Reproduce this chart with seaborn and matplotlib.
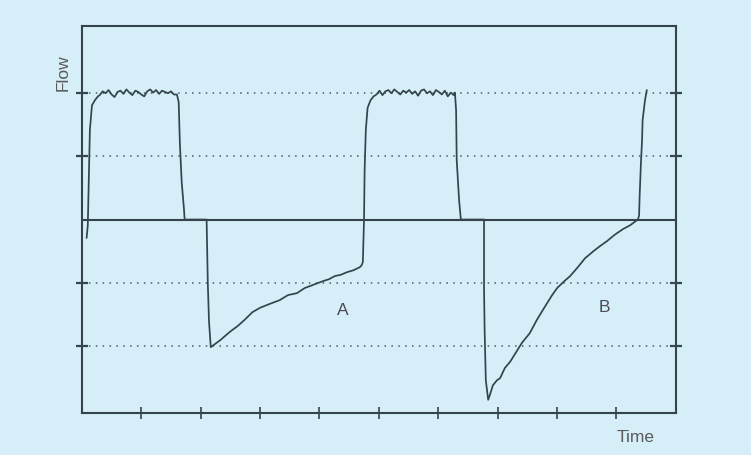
import pandas as pd
import seaborn as sns
import matplotlib.pyplot as plt

# Flow trace (time in tick units, flow in gridline units)
time = [0.08, 0.10, 0.135, 0.17, 0.22, 0.27,
        0.30, 0.35, 0.40, 0.45, 0.50, 0.55, 0.60, 0.65, 0.70, 0.75, 0.80, 0.85, 0.90,
        0.95, 1.00, 1.05, 1.10, 1.15, 1.20, 1.25, 1.30, 1.35, 1.40, 1.45, 1.50, 1.55,
        1.60, 1.63, 1.65, 1.68, 1.72, 1.73,
        2.10, 2.12, 2.14, 2.17,
        2.33, 2.49, 2.62, 2.74, 2.87, 3.00, 3.16, 3.33, 3.47, 3.62, 3.75, 3.89, 4.06,
        4.16, 4.26, 4.36, 4.46, 4.57, 4.68, 4.71,
        4.73, 4.75, 4.76, 4.78, 4.81, 4.86, 4.91,
        4.96, 5.01, 5.06, 5.11, 5.16, 5.21, 5.26, 5.31, 5.36, 5.41, 5.46, 5.51, 5.56,
        5.61, 5.66, 5.71, 5.76, 5.81, 5.86, 5.91, 5.96, 6.01, 6.06, 6.11, 6.16, 6.21,
        6.26, 6.28, 6.30, 6.31, 6.35, 6.38,
        6.77, 6.77, 6.78, 6.80, 6.84,
        6.87, 6.92, 6.99, 7.04, 7.12, 7.21, 7.31, 7.41, 7.54, 7.66, 7.79, 7.91, 8.00,
        8.11, 8.22, 8.35, 8.47, 8.61, 8.72, 8.84, 8.97, 9.11, 9.23, 9.36,
        9.38, 9.39, 9.41, 9.43, 9.44, 9.48, 9.51]
flow = [-0.29, -0.09, 1.41, 1.80, 1.88, 1.94,
        1.96, 2.02, 1.99, 2.04, 1.97, 1.93, 2.01, 2.03, 1.98, 2.05, 2.00, 1.96, 2.03,
        2.01, 1.97, 1.94, 2.02, 2.05, 2.00, 2.04, 1.98, 2.03, 2.01, 1.99, 2.02, 1.97,
        1.97, 1.85, 1.20, 0.60, 0.15, 0.00,
        0.00, -1.00, -1.60, -2.01,
        -1.90, -1.77, -1.68, -1.58, -1.46, -1.39, -1.33, -1.27, -1.19, -1.16, -1.08, -1.03, -0.97,
        -0.94, -0.89, -0.87, -0.83, -0.80, -0.75, -0.72,
        -0.67, 0.00, 0.78, 1.41, 1.76, 1.88, 1.94,
        1.97, 2.03, 1.96, 2.02, 2.04, 1.99, 2.05, 2.01, 1.97, 2.03, 2.00, 2.04, 1.98,
        2.02, 1.95, 2.03, 2.05, 1.99, 2.02, 1.96, 2.04, 2.01, 1.97, 2.03, 1.94, 2.00,
        1.96, 2.00, 1.72, 0.94, 0.31, 0.00,
        0.00, -1.08, -1.74, -2.53, -2.84,
        -2.76, -2.61, -2.53, -2.50, -2.34, -2.24, -2.09, -1.94, -1.79, -1.58, -1.38, -1.20, -1.08,
        -0.98, -0.89, -0.75, -0.61, -0.50, -0.42, -0.34, -0.24, -0.15, -0.09, 0.00,
        0.06, 0.38, 0.86, 1.25, 1.57, 1.88, 2.04]

grid_levels = [-2, -1, 1, 2]
time_ticks = [1, 2, 3, 4, 5, 6, 7, 8, 9]
curve_labels = ["A", "B"]
label_time = [4.39, 8.79]
label_flow = [-1.43, -1.38]

bg = "#d6eef8"
ink = "#34444f"

df = pd.DataFrame({"time": time, "flow": flow})

sns.set_style("white")
plt.rcParams["font.family"] = ["Liberation Sans", "DejaVu Sans"]
fig = plt.figure(figsize=(7.51, 4.55), dpi=100, facecolor=bg)
ax = fig.add_axes([0.109, 0.092, 0.791, 0.851], facecolor=bg)

for lv in grid_levels:
    ax.axhline(lv, color="#4a5a66", lw=1.1, ls=(0, (1, 3.5)), zorder=1)
ax.axhline(0, color=ink, lw=1.5, zorder=2)

sns.lineplot(data=df, x="time", y="flow", sort=False, estimator=None,
             color=ink, lw=1.25, ax=ax, zorder=3)

for lab, tx, fy in zip(curve_labels, label_time, label_flow):
    ax.text(tx, fy, lab, fontsize=12.5, color="#4a4a5a", ha="center", va="center")

ax.set_xlim(0, 10)
ax.set_ylim(-3.05, 3.05)
ax.set_xticks(time_ticks)
ax.set_yticks(grid_levels)
ax.set_xticklabels([])
ax.set_yticklabels([])
ax.tick_params(axis="x", direction="inout", length=9, width=1.2, color=ink, bottom=True)
ax.tick_params(axis="y", direction="inout", length=9, width=1.6, color=ink,
               left=True, right=True)
ax.set_xlabel("")
ax.set_ylabel("")
for side in ["top", "bottom", "left", "right"]:
    ax.spines[side].set_visible(True)
    ax.spines[side].set_color(ink)
    ax.spines[side].set_linewidth(1.5)

ax.text(-0.032, 0.88, "Flow", transform=ax.transAxes, rotation=90,
        fontsize=12.5, color="#5a5a5a", ha="center", va="center")
ax.text(0.933, -0.062, "Time", transform=ax.transAxes,
        fontsize=12.5, color="#5a5a5a", ha="center", va="center")

fig.savefig("out.png", dpi=100, facecolor=bg)
